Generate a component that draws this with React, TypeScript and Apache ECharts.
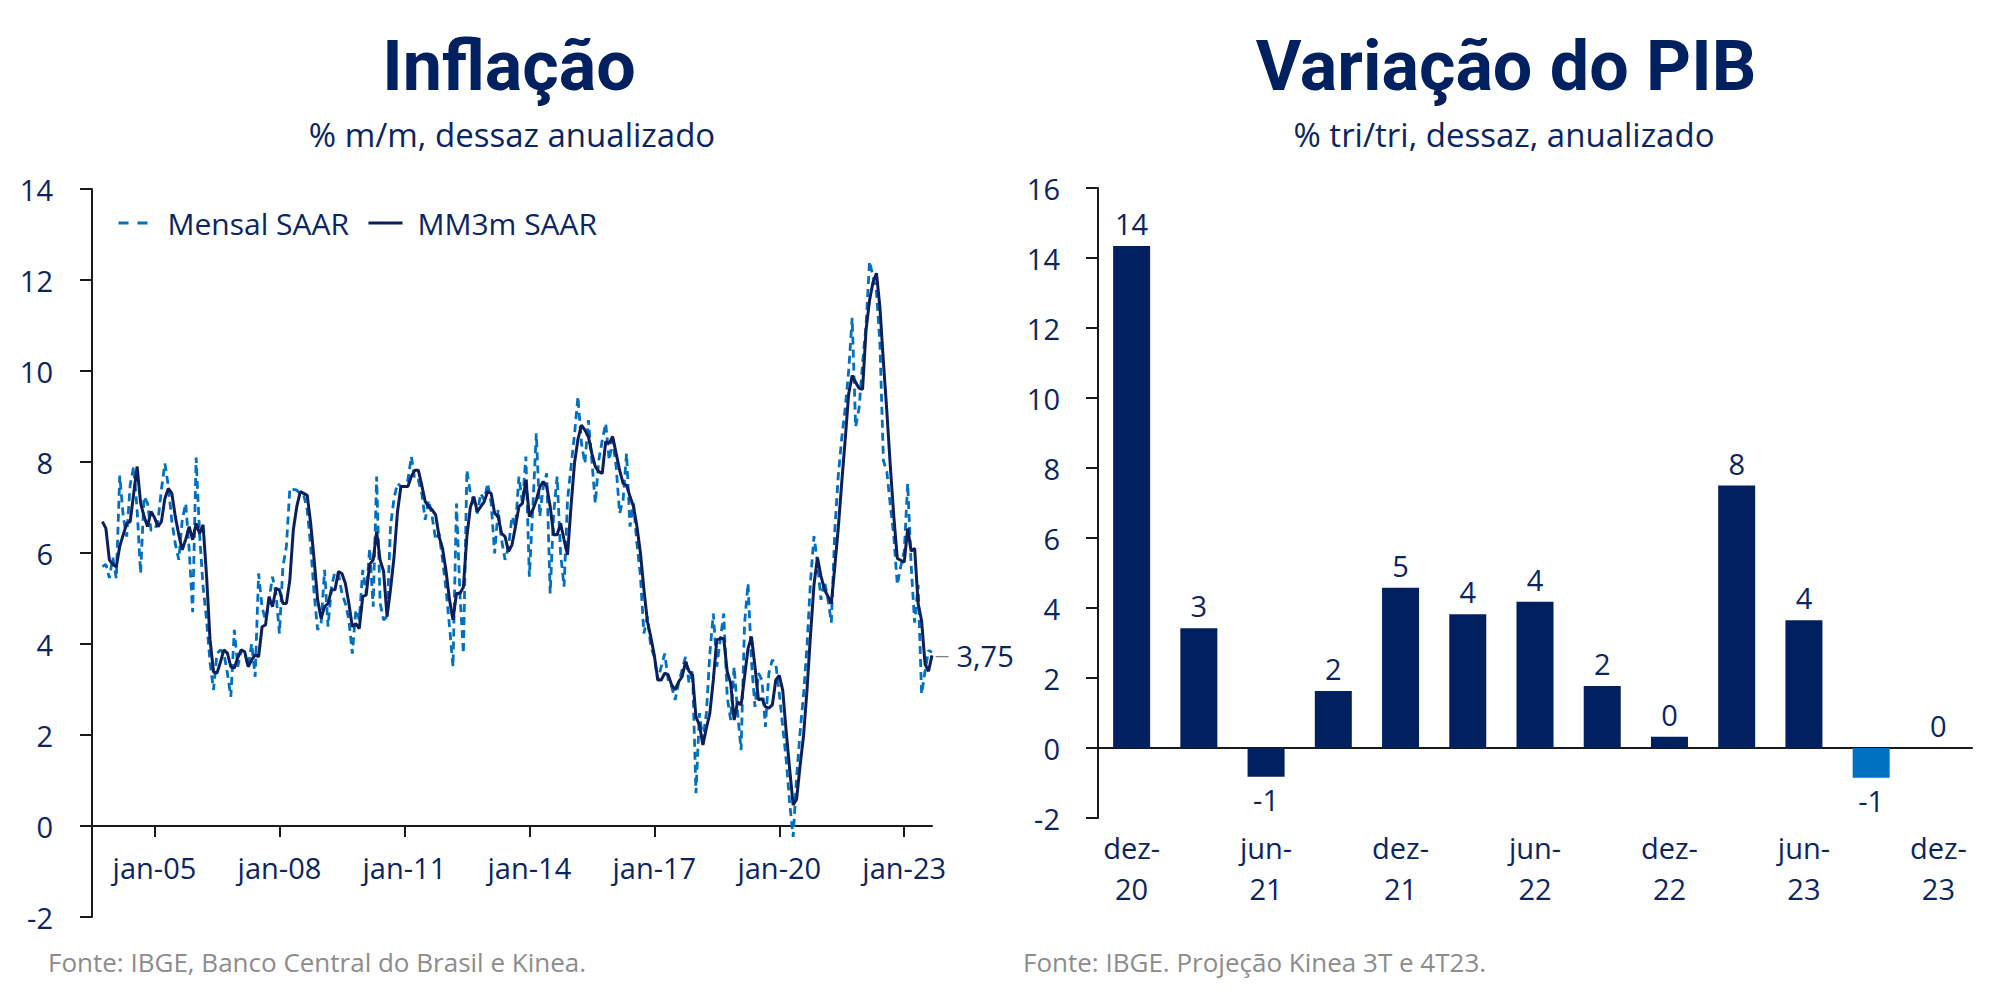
import React, { useEffect, useRef } from "react";
import * as echarts from "echarts";

// ---------- Inflação (monthly, jul-03 .. set-23) ----------
const MONTHS_PT = ["jan", "fev", "mar", "abr", "mai", "jun", "jul", "ago", "set", "out", "nov", "dez"];
const START_YEAR = 2003;
const START_MONTH = 6; // julho
const N_MONTHS = 243;
const monthCategories: string[] = Array.from({ length: N_MONTHS }, (_, i) => {
  const k = START_MONTH + i;
  const y = START_YEAR + Math.floor(k / 12);
  return `${MONTHS_PT[k % 12]}-${String(y % 100).padStart(2, "0")}`;
});
const inflTickLabels = ["jan-05", "jan-08", "jan-11", "jan-14", "jan-17", "jan-20", "jan-23"];

const mensalSaar: (number | null)[] = [
  null, null, null,
  5.70, 5.75, 5.45, 5.90, 5.44, 7.70, 6.80, 6.36, 7.50, 7.90,
  6.95, 5.55, 7.24, 7.09, 6.50, 6.50, 6.70, 7.40, 7.97, 7.46,
  6.70, 6.20, 5.85, 6.73, 7.09, 6.07, 4.70, 8.10, 6.40, 5.26,
  4.53, 3.60, 2.99, 3.79, 3.87, 3.79, 3.36, 2.84, 4.31, 3.50,
  3.87, 3.80, 3.50, 4.01, 3.28, 5.55, 4.80, 4.53, 4.97, 5.48,
  5.11, 4.23, 5.70, 6.14, 7.42, 7.40, 7.38, 7.30, 7.27, 6.95,
  6.14, 5.11, 4.31, 4.45, 5.63, 4.38, 5.26, 5.59, 5.55, 5.11,
  4.89, 4.53, 3.79, 4.75, 4.53, 5.63, 5.11, 6.10, 4.82, 7.68,
  4.90, 4.53, 4.60, 6.58, 7.20, 7.53, 7.46, 7.46, 7.60, 8.12,
  7.60, 7.60, 7.31, 6.73, 7.16, 6.80, 6.29, 6.43, 5.85, 5.20,
  4.38, 3.50, 7.09, 5.11, 3.79, 7.82, 7.31, 7.16, 6.87, 7.31,
  7.16, 7.53, 7.09, 5.99, 6.95, 6.29, 5.85, 6.14, 6.80, 6.58,
  7.68, 7.09, 8.12, 5.48, 7.00, 8.63, 6.80, 7.46, 7.75, 5.11,
  6.87, 7.68, 5.99, 5.26, 7.16, 7.90, 8.60, 9.44, 8.41, 7.97,
  8.92, 8.04, 7.09, 8.04, 8.48, 8.85, 8.04, 8.48, 7.90, 6.87,
  7.16, 8.19, 6.58, 7.09, 6.20, 5.50, 4.23, 4.60, 3.94, 3.72,
  3.21, 3.50, 3.79, 3.21, 3.06, 2.77, 3.14, 3.43, 3.72, 3.14,
  3.43, 0.72, 2.48, 1.90, 2.48, 3.79, 4.67, 3.50, 4.09, 4.67,
  2.84, 2.33, 3.50, 2.48, 1.67, 4.45, 5.33, 3.60, 2.62, 3.36,
  3.21, 2.18, 3.36, 3.65, 3.56, 2.92, 2.18, 1.45, 0.50, -0.24,
  1.08, 2.07, 2.90, 3.98, 5.38, 6.37, 5.80, 4.97, 5.38, 5.00,
  4.47, 6.50, 7.70, 8.53, 9.19, 10.01, 11.17, 8.77, 9.19, 10.18,
  11.01, 12.41, 12.08, 11.75, 10.59, 8.03, 7.78, 7.04, 6.37, 5.30,
  5.71, 6.04, 7.53, 5.71, 4.47, 5.30, 2.90, 3.40, 3.86, 3.82,
];

const mm3mSaar: (number | null)[] = [
  null, null, null,
  6.69, 6.54, 5.85, 5.75, 5.70, 6.15, 6.40, 6.65, 6.69, 7.30,
  7.90, 7.10, 6.80, 6.58, 6.91, 6.78, 6.58, 6.69, 7.20, 7.42,
  7.31, 6.80, 6.40, 6.07, 6.30, 6.58, 6.29, 6.65, 6.43, 6.62,
  5.50, 4.10, 3.39, 3.36, 3.60, 3.87, 3.80, 3.50, 3.47, 3.70,
  3.87, 3.83, 3.50, 3.65, 3.76, 3.72, 4.38, 4.42, 5.04, 4.82,
  5.22, 5.19, 4.89, 4.89, 5.41, 6.51, 7.02, 7.35, 7.31, 7.27,
  6.65, 5.85, 4.97, 4.56, 4.82, 4.89, 5.19, 5.19, 5.59, 5.55,
  5.33, 4.89, 4.38, 4.45, 4.34, 5.04, 5.08, 5.75, 5.85, 6.47,
  5.85, 5.60, 4.60, 5.20, 5.90, 6.90, 7.46, 7.46, 7.46, 7.68,
  7.82, 7.82, 7.49, 7.13, 7.02, 6.95, 6.84, 6.36, 6.10, 5.60,
  4.97, 4.53, 5.11, 5.11, 5.25, 6.36, 7.00, 7.24, 6.91, 7.02,
  7.13, 7.35, 7.31, 6.87, 6.80, 6.43, 6.36, 6.03, 6.18, 6.58,
  7.02, 7.09, 7.60, 6.80, 6.95, 7.16, 7.45, 7.57, 7.46, 7.02,
  6.40, 6.40, 6.65, 6.29, 5.96, 7.02, 7.97, 8.50, 8.81, 8.70,
  8.56, 8.19, 7.90, 7.79, 7.75, 8.45, 8.41, 8.56, 8.19, 7.82,
  7.53, 7.49, 7.24, 7.02, 6.58, 6.00, 5.20, 4.50, 4.15, 3.75,
  3.21, 3.21, 3.36, 3.32, 3.10, 2.99, 3.17, 3.28, 3.61, 3.40,
  3.32, 2.40, 2.22, 1.78, 2.15, 2.48, 3.21, 4.09, 4.12, 4.12,
  3.39, 3.14, 2.33, 2.73, 2.66, 3.28, 3.90, 4.16, 3.50, 2.77,
  2.80, 2.62, 2.59, 2.66, 3.21, 3.31, 2.98, 2.07, 1.25, 0.46,
  0.59, 1.33, 1.99, 3.00, 4.20, 5.30, 5.90, 5.50, 5.20, 5.05,
  4.89, 5.70, 6.55, 7.55, 8.50, 9.50, 9.90, 9.75, 9.62, 9.60,
  10.90, 11.55, 11.95, 12.15, 11.40, 10.20, 9.10, 7.90, 6.80, 5.88,
  5.84, 5.80, 6.54, 6.04, 6.10, 4.89, 4.51, 3.56, 3.40, 3.75,
];
const mm3mLastLabel = "3,75";

// ---------- Variação do PIB (quarterly) ----------
const pibQuarters = [
  "dez-20", "mar-21", "jun-21", "set-21", "dez-21", "mar-22", "jun-22",
  "set-22", "dez-22", "mar-23", "jun-23", "set-23", "dez-23",
];
const pibValues = [14.34, 3.42, -0.82, 1.63, 4.58, 3.82, 4.18, 1.77, 0.32, 7.5, 3.65, -0.85, 0];
const pibProjected = [false, false, false, false, false, false, false, false, false, false, false, true, true];

// ---------- styles ----------
const NAVY = "#0B2560";
const BAR_DARK = "#002060";
const BAR_LIGHT = "#0070C0";
const DASH_BLUE = "#0070C0";
const LINE_NAVY = "#0A1F5C";
const GRAY = "#8C8C8C";
const AXIS = "#1A1A1A";
const FONT = '"Open Sans", "Noto Sans", sans-serif';
const TITLE_FONT = "Roboto, sans-serif";

export default function App() {
  const ref = useRef<HTMLDivElement>(null);

  useEffect(() => {
    if (!ref.current) return;
    const chart = echarts.init(ref.current, null, { renderer: "svg" });

    const axisLabelStyle = { color: NAVY, fontSize: 29, fontFamily: FONT };
    const tickFn = (_i: number, v: string) => inflTickLabels.includes(v);

    const option: any = {
      animation: false,
      backgroundColor: "#ffffff",
      grid: [
        { left: 92, top: 189, width: 840, height: 728 },
        { left: 1098, top: 188, width: 874, height: 630 },
      ],
      legend: {
        data: [
          { name: "Mensal SAAR", lineStyle: { type: [10, 9], width: 3 } },
          { name: "MM3m SAAR", lineStyle: { width: 3 } },
        ],
        left: 112,
        top: 203,
        itemWidth: 34,
        itemHeight: 14,
        itemGap: 18,
        itemStyle: { opacity: 0, color: "rgba(0,0,0,0)", borderWidth: 0 },
        textStyle: { color: NAVY, fontSize: 30, fontFamily: FONT, padding: [0, 0, 0, 10] },
      },
      xAxis: [
        {
          type: "category",
          gridIndex: 0,
          data: monthCategories,
          boundaryGap: false,
          axisLine: { lineStyle: { color: AXIS, width: 2 } },
          axisTick: { show: true, interval: tickFn, length: 11, lineStyle: { color: AXIS, width: 2 } },
          axisLabel: { ...axisLabelStyle, interval: tickFn, margin: -64 },
          splitLine: { show: false },
        },
        {
          type: "category",
          gridIndex: 1,
          data: pibQuarters,
          axisLine: { onZero: true, lineStyle: { color: AXIS, width: 2 } },
          axisTick: { show: false },
          axisLabel: {
            ...axisLabelStyle,
            interval: 1,
            margin: 9,
            lineHeight: 41,
            formatter: (v: string) => v.replace("-", "-\n"),
          },
          splitLine: { show: false },
        },
      ],
      yAxis: [
        {
          type: "value",
          gridIndex: 0,
          min: -2,
          max: 14,
          interval: 2,
          axisLine: { show: true, lineStyle: { color: AXIS, width: 2 } },
          axisTick: { show: true, length: 12, lineStyle: { color: AXIS, width: 2 } },
          axisLabel: { ...axisLabelStyle, margin: 39 },
          splitLine: { show: false },
        },
        {
          type: "value",
          gridIndex: 1,
          min: -2,
          max: 16,
          interval: 2,
          axisLine: { show: true, lineStyle: { color: AXIS, width: 2 } },
          axisTick: { show: true, length: 12, lineStyle: { color: AXIS, width: 2 } },
          axisLabel: { ...axisLabelStyle, margin: 38 },
          splitLine: { show: false },
        },
      ],
      series: [
        {
          name: "Mensal SAAR",
          type: "line",
          xAxisIndex: 0,
          yAxisIndex: 0,
          data: mensalSaar,
          symbol: "none",
          connectNulls: false,
          lineStyle: { color: DASH_BLUE, width: 2.8, type: [8, 5] },
          itemStyle: { color: DASH_BLUE },
        },
        {
          name: "MM3m SAAR",
          type: "line",
          xAxisIndex: 0,
          yAxisIndex: 0,
          data: mm3mSaar,
          symbol: "none",
          lineStyle: { color: LINE_NAVY, width: 3 },
          itemStyle: { color: LINE_NAVY },
          endLabel: {
            show: true,
            distance: 3,
            formatter: `{d|—} ${mm3mLastLabel}`,
            color: NAVY,
            fontSize: 29,
            fontFamily: FONT,
            rich: {
              d: { color: "#7F7F7F", fontSize: 14, fontFamily: FONT },
            },
          },
        },
        {
          name: "PIB",
          type: "bar",
          xAxisIndex: 1,
          yAxisIndex: 1,
          barWidth: 37,
          data: pibValues.map((v, i) => ({
            value: v,
            itemStyle: { color: pibProjected[i] ? BAR_LIGHT : BAR_DARK },
            label: { position: v < 0 ? "bottom" : "top" },
          })),
          label: {
            show: true,
            distance: 8,
            color: NAVY,
            fontSize: 29,
            fontFamily: FONT,
            formatter: (p: any) => String(Math.round(p.value) || 0),
          },
        },
      ],
      graphic: [
        {
          type: "text",
          x: 509,
          y: 66,
          style: { text: "Inflação", fill: BAR_DARK, font: `bold 70px ${TITLE_FONT}`, textAlign: "center", textVerticalAlign: "middle" },
        },
        {
          type: "text",
          x: 512,
          y: 134,
          style: { text: "% m/m, dessaz anualizado", fill: NAVY, font: `33px ${FONT}`, textAlign: "center", textVerticalAlign: "middle" },
        },
        {
          type: "text",
          x: 1506,
          y: 66,
          style: { text: "Variação do PIB", fill: BAR_DARK, font: `bold 70px ${TITLE_FONT}`, textAlign: "center", textVerticalAlign: "middle" },
        },
        {
          type: "text",
          x: 1504,
          y: 134,
          style: { text: "% tri/tri, dessaz, anualizado", fill: NAVY, font: `33px ${FONT}`, textAlign: "center", textVerticalAlign: "middle" },
        },
        {
          type: "text",
          x: 48,
          y: 962,
          style: { text: "Fonte: IBGE, Banco Central do Brasil e Kinea.", fill: GRAY, font: `26px ${FONT}`, textAlign: "left", textVerticalAlign: "middle" },
        },
        {
          type: "text",
          x: 1023,
          y: 962,
          style: { text: "Fonte: IBGE. Projeção Kinea 3T e 4T23.", fill: GRAY, font: `26px ${FONT}`, textAlign: "left", textVerticalAlign: "middle" },
        },
      ],
    };

    chart.setOption(option);
    return () => chart.dispose();
  }, []);

  return (
    <div
      ref={ref}
      style={{ position: "fixed", left: 0, top: 0, width: 2000, height: 999, background: "#fff" }}
    />
  );
}
